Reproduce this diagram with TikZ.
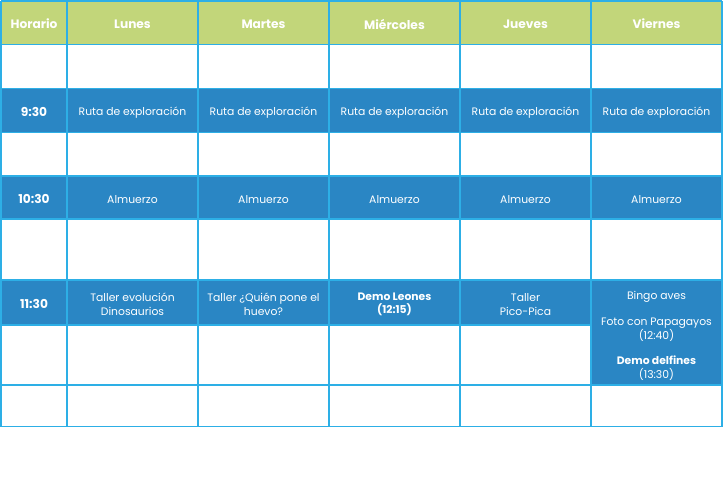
\documentclass[tikz,border=0pt]{standalone}
\usepackage{fontspec}
\setmainfont{Poppins}
\definecolor{hdrgreen}{RGB}{194,214,122}
\definecolor{rowblue}{RGB}{42,134,196}
\definecolor{gridblue}{RGB}{45,175,230}
\begin{document}
\begin{tikzpicture}[x=1pt,y=-1pt,
    cell/.style={text=white,font=\fontsize{10.8}{13.5}\selectfont,align=center,inner sep=0pt},
    head/.style={cell,font=\fontsize{12.2}{14}\selectfont\bfseries},
    grid/.style={gridblue,line width=1.6pt}]
  \useasboundingbox (0,0) rectangle (725,488);
  % fills
  \fill[hdrgreen] (1,1) rectangle (722,44.5);
  \fill[rowblue] (1,88.5) rectangle (722,132.5);
  \fill[rowblue] (1,176) rectangle (722,219);
  \fill[rowblue] (1,280) rectangle (591,325);
  \fill[rowblue] (591,280) rectangle (722,385);
  % grid
  \foreach \y in {1,44.5,88.5,132.5,176,219,280,385,426.5}
    \draw[grid] (1,\y) -- (722,\y);
  \draw[grid] (1,325) -- (591,325);
  \foreach \x in {1,67,198,329,460,591,722}
    \draw[grid] (\x,1) -- (\x,426.5);
  % header
  \node[head] (hhor) at (34,24) {Horario};
  \node[head] (hlun) at (132.5,24) {Lunes};
  \node[head] (hmar) at (263.5,24) {Martes};
  \node[head] (hmie) at (394.5,24) {Miércoles};
  \node[head] (hjue) at (525.5,24) {Jueves};
  \node[head] (hvie) at (656.5,24) {Viernes};
  % 9:30
  \node[head] (t930) at (34,112) {9:30};
  \foreach \x/\n in {132.5/lun,263.5/mar,394.5/mie,525.5/jue,656.5/vie}
    \node[cell] (ruta\n) at (\x,112.5) {Ruta de exploración};
  % 10:30
  \node[head] (t1030) at (34,199) {10:30};
  \foreach \x/\n in {132.5/lun,263.5/mar,394.5/mie,525.5/jue,656.5/vie}
    \node[cell] (alm\n) at (\x,199.5) {Almuerzo};
  % 11:30
  \node[head] (t1130) at (34,304) {11:30};
  \node[cell] (tallun) at (132.5,304.5) {Taller evolución\\Dinosaurios};
  \node[cell] (talmar) at (263.5,304.5) {Taller ¿Quién pone el\\huevo?};
  \node[cell] (demmie) at (394.5,304.5) {\textbf{Demo Leones}\\\textbf{(12:15)}};
  \node[cell] (taljue) at (525.5,304.5) {Taller\\Pico-Pica};
  \node[cell] (actvie) at (656.5,335.5) {Bingo aves\\[13pt]Foto con Papagayos\\(12:40)\\[12pt]\textbf{Demo delfines}\\(13:30)};
\end{tikzpicture}
\end{document}
